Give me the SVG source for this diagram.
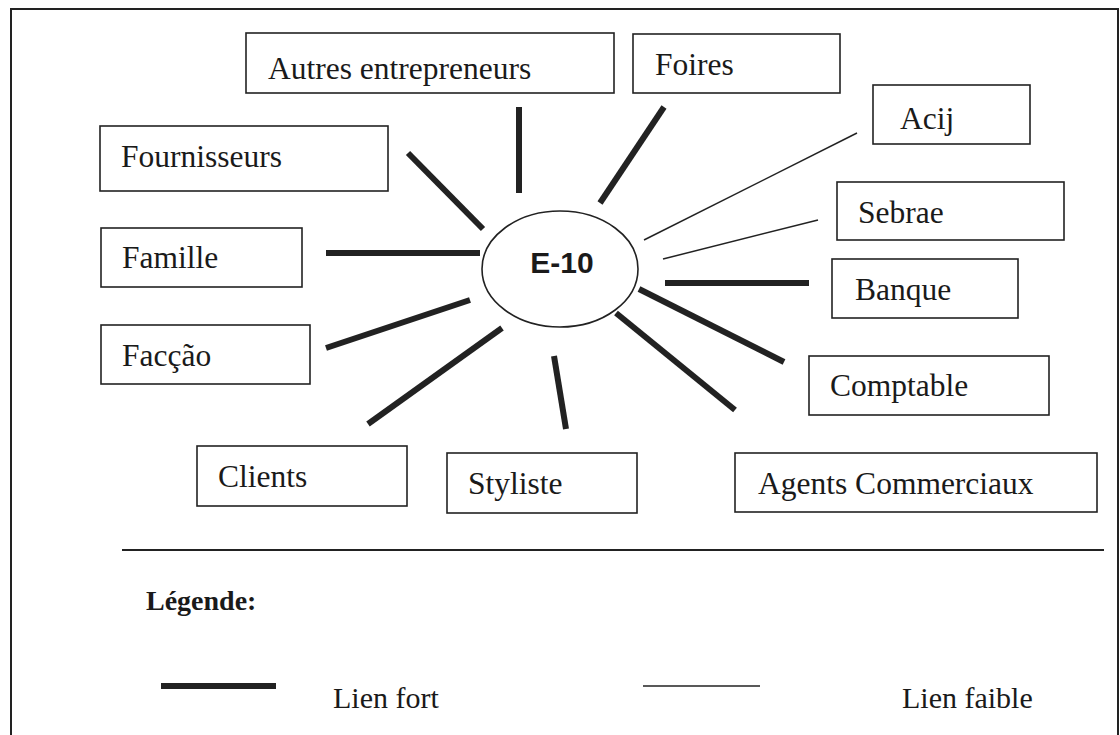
<svg xmlns="http://www.w3.org/2000/svg" width="1120" height="735" viewBox="0 0 1120 735">
  <style>
    .frame { fill: none; stroke: #222; stroke-width: 2; }
    .box { fill: #fff; stroke: #222; stroke-width: 1.6; }
    .lbl { font-family: "Liberation Serif", "Times New Roman", serif; font-size: 31.5px; fill: #1a1a1a; }
    .hub { fill: #fff; stroke: #222; stroke-width: 1.6; }
    .hubtxt { font-family: "Liberation Sans", Arial, sans-serif; font-size: 30px; font-weight: bold; fill: #1a1a1a; text-anchor: middle; }
    .strong { stroke: #222; stroke-width: 6; fill: none; }
    .weak { stroke: #222; stroke-width: 1.5; fill: none; }
    .legtitle { font-family: "Liberation Serif", "Times New Roman", serif; font-size: 28px; font-weight: bold; fill: #1a1a1a; }
    .legtxt { font-family: "Liberation Serif", "Times New Roman", serif; font-size: 30px; fill: #1a1a1a; }
  </style>

  <rect width="1120" height="735" fill="#fff"/>

  <!-- outer frame, open at the bottom edge -->
  <path class="frame" d="M11,745 V9 H1118 V745"/>

  <!-- links between E-10 and its partners -->
  <g id="connectors">
    <line class="strong" x1="519" y1="107" x2="519" y2="193"/>
    <line class="strong" x1="664" y1="107" x2="600" y2="203"/>
    <line class="weak" x1="857" y1="133" x2="644" y2="240"/>
    <line class="weak" x1="818" y1="220" x2="663" y2="259"/>
    <line class="strong" x1="665" y1="283" x2="809" y2="283"/>
    <line class="strong" x1="639" y1="289" x2="784" y2="362"/>
    <line class="strong" x1="616" y1="313" x2="735" y2="410"/>
    <line class="strong" x1="554" y1="356" x2="566" y2="429"/>
    <line class="strong" x1="502" y1="328" x2="368" y2="424"/>
    <line class="strong" x1="470" y1="300" x2="326" y2="348"/>
    <line class="strong" x1="326" y1="253" x2="480" y2="253"/>
    <line class="strong" x1="408" y1="153" x2="483" y2="229"/>
  </g>

  <!-- central actor -->
  <g id="e10">
    <ellipse class="hub" cx="560" cy="269" rx="78" ry="58"/>
    <text class="hubtxt" x="562" y="273">E-10</text>
  </g>

  <g id="autres-entrepreneurs">
    <rect class="box" x="246" y="33" width="368" height="60"/>
    <text class="lbl" x="268" y="79">Autres entrepreneurs</text>
  </g>
  <g id="foires">
    <rect class="box" x="633" y="34" width="207" height="59"/>
    <text class="lbl" x="655" y="75">Foires</text>
  </g>
  <g id="acij">
    <rect class="box" x="873" y="85" width="157" height="59"/>
    <text class="lbl" x="900" y="129">Acij</text>
  </g>
  <g id="fournisseurs">
    <rect class="box" x="100" y="126" width="288" height="65"/>
    <text class="lbl" x="121" y="167">Fournisseurs</text>
  </g>
  <g id="sebrae">
    <rect class="box" x="837" y="182" width="227" height="58"/>
    <text class="lbl" x="858" y="223">Sebrae</text>
  </g>
  <g id="famille">
    <rect class="box" x="101" y="228" width="201" height="59"/>
    <text class="lbl" x="122" y="268">Famille</text>
  </g>
  <g id="banque">
    <rect class="box" x="832" y="259" width="186" height="59"/>
    <text class="lbl" x="855" y="300">Banque</text>
  </g>
  <g id="faccao">
    <rect class="box" x="101" y="325" width="209" height="59"/>
    <text class="lbl" x="122" y="366">Facção</text>
  </g>
  <g id="comptable">
    <rect class="box" x="809" y="356" width="240" height="59"/>
    <text class="lbl" x="830" y="396">Comptable</text>
  </g>
  <g id="clients">
    <rect class="box" x="197" y="446" width="210" height="60"/>
    <text class="lbl" x="218" y="487">Clients</text>
  </g>
  <g id="styliste">
    <rect class="box" x="447" y="453" width="190" height="60"/>
    <text class="lbl" x="468" y="494">Styliste</text>
  </g>
  <g id="agents-commerciaux">
    <rect class="box" x="735" y="453" width="362" height="59"/>
    <text class="lbl" x="758" y="494">Agents Commerciaux</text>
  </g>

  <!-- legend -->
  <g id="legend">
    <line x1="122" y1="550" x2="1104" y2="550" stroke="#222" stroke-width="2"/>
    <text class="legtitle" x="146" y="610">Légende:</text>
    <line class="strong" x1="161" y1="686" x2="276" y2="686"/>
    <text class="legtxt" x="333" y="708">Lien fort</text>
    <line class="weak" x1="643" y1="686" x2="760" y2="686"/>
    <text class="legtxt" x="902" y="708">Lien faible</text>
  </g>
</svg>
